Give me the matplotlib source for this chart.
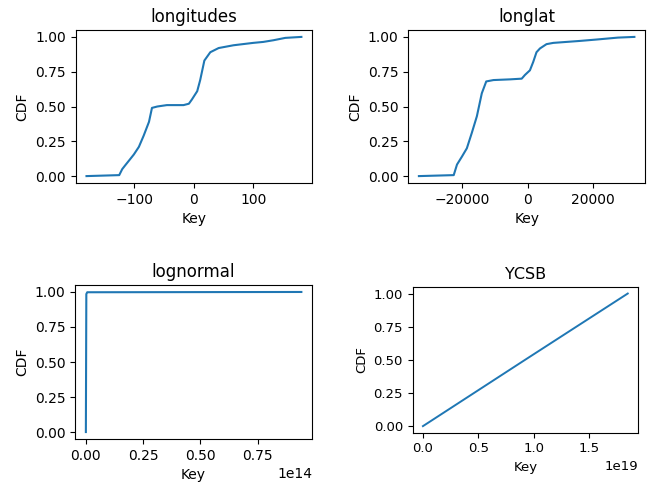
import matplotlib
matplotlib.use("Agg")
import matplotlib.pyplot as plt

# longitudes CDF
lon_key = [-180, -125, -120, -114.5, -107, -100.5, -92, -84, -75, -70, -61, -45, -17, -8, -3,
           6, 11, 18, 28, 42, 67, 100, 117, 134, 154, 181]
lon_cdf = [0.0, 0.007, 0.05, 0.08, 0.12, 0.155, 0.21, 0.29, 0.39, 0.49, 0.50, 0.51, 0.51, 0.52, 0.55,
           0.61, 0.69, 0.83, 0.89, 0.92, 0.94, 0.957, 0.964, 0.976, 0.993, 1.0]

# longlat CDF
ll_key = [-33100, -22500, -21500, -20000, -18500, -17000, -15450, -13950, -12600, -10400,
          -5350, -1800, -800, 700, 1700, 2700, 3750, 5750, 7800, 15850, 20900, 27500, 32500]
ll_cdf = [0.0, 0.007, 0.083, 0.14, 0.20, 0.31, 0.43, 0.595, 0.68, 0.69,
          0.695, 0.70, 0.727, 0.76, 0.82, 0.89, 0.917, 0.948, 0.957, 0.971, 0.981, 0.995, 1.0]

# lognormal CDF
ln_key = [0, 2e11, 6e11, 9.4e13]
ln_cdf = [0.0, 0.985, 0.998, 1.0]

# YCSB CDF
ycsb_key = [0, 0.92e19, 1.845e19]
ycsb_cdf = [0.0, 0.5, 1.0]

fig = plt.figure(figsize=(6.53, 4.83), dpi=100)

ax1 = fig.add_axes([0.116, 0.621, 0.362, 0.317])
ax1.plot(lon_key, lon_cdf)
ax1.set_title("longitudes")
ax1.set_xlabel("Key")
ax1.set_ylabel("CDF")

ax2 = fig.add_axes([0.625, 0.621, 0.363, 0.317])
ax2.plot(ll_key, ll_cdf)
ax2.set_title("longlat")
ax2.set_xlabel("Key")
ax2.set_ylabel("CDF")

ax3 = fig.add_axes([0.115, 0.091, 0.363, 0.319])
ax3.plot(ln_key, ln_cdf)
ax3.set_title("lognormal")
ax3.set_xlabel("Key")
ax3.set_ylabel("CDF")
ax3.ticklabel_format(axis="x", style="sci", scilimits=(14, 14))
ax3.set_xticks([0, 0.25e14, 0.5e14, 0.75e14])

# last panel looks a bit smaller / narrower in the reference
ax4 = fig.add_axes([0.632, 0.104, 0.345, 0.302])
ax4.plot(ycsb_key, ycsb_cdf, lw=1.4)
ax4.set_title("YCSB", fontsize=11.5)
ax4.set_xlabel("Key", fontsize=9.5)
ax4.set_ylabel("CDF", fontsize=9.5)
ax4.tick_params(labelsize=9.5)
ax4.xaxis.get_offset_text().set_fontsize(9.5)

fig.savefig("out.png", dpi=100)
